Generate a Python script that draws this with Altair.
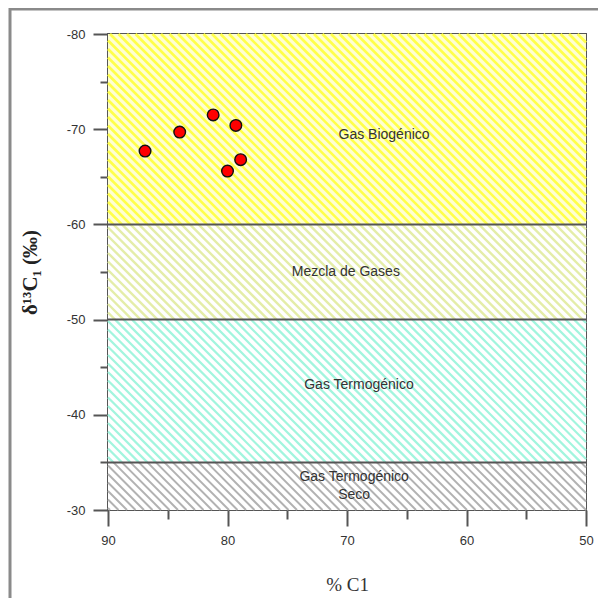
import altair as alt
import pandas as pd

# ---- data ----
pct_c1 = [86.9, 84.0, 81.2, 79.3, 78.9, 80.0]
d13c1 = [-67.7, -69.7, -71.5, -70.4, -66.8, -65.6]

band_names = ["Gas Biogénico", "Mezcla de Gases", "Gas Termogénico", "Gas Termogénico Seco"]
band_y0 = [-80, -60, -50, -35]
band_y1 = [-60, -50, -35, -30]
band_bg = ["#ffffd2", "#ffffff", "#ffffff", "#ffffff"]
band_line = ["#ffff4a", "#e4eda8", "#a2f5de", "#b2b2b2"]
band_lw = [2.6, 2.0, 2.0, 1.2]

label_text = ["Gas Biogénico", "Mezcla de Gases", "Gas Termogénico", "Gas Termogénico", "Seco"]
label_x = [66.9, 70.1, 69.0, 69.4, 69.4]
label_y = [-69.4, -55.0, -43.1, -33.5, -31.6]

x_ticks = [90, 85, 80, 75, 70, 65, 60, 55, 50]
y_ticks = [-80, -75, -70, -65, -60, -55, -50, -45, -40, -35, -30]

W, H = 478, 476
XMIN, XMAX = 50, 90
YMIN, YMAX = -80, -30

xs = alt.Scale(domain=[XMIN, XMAX], reverse=True, nice=False, zero=False)
ys = alt.Scale(domain=[YMIN, YMAX], reverse=True, nice=False, zero=False)

# ---- hatch segments (decorative fill pattern, 45 degrees in screen space) ----
def px_to_x(px):
    return XMAX - px * (XMAX - XMIN) / W

def py_to_y(py):
    return YMIN + py * (YMAX - YMIN) / H

rows = []
step = 8.5
for i in range(len(band_names)):
    pa = (band_y0[i] - YMIN) * H / (YMAX - YMIN)
    pb = (band_y1[i] - YMIN) * H / (YMAX - YMIN)
    c = -W
    while c < H:
        lo = max(0.0, pa - c)
        hi = min(W, pb - c)
        if hi > lo:
            rows.append(dict(band=band_names[i], x=px_to_x(lo), y=py_to_y(lo + c),
                             x2=px_to_x(hi), y2=py_to_y(hi + c)))
        c += step
hatch = pd.DataFrame(rows)

bands = pd.DataFrame(dict(name=band_names, y0=band_y0, y1=band_y1, bg=band_bg,
                          x0=[XMIN] * 4, x1=[XMAX] * 4))
pts = pd.DataFrame(dict(x=pct_c1, y=d13c1))
labels = pd.DataFrame(dict(t=label_text, x=label_x, y=label_y))
bounds = pd.DataFrame(dict(y=[-60, -50, -35]))

AX_COLOR = "#555555"
x_axis = alt.Axis(
    values=x_ticks, title="% C1", grid=False, domain=False,
    tickColor=AX_COLOR, tickWidth=2,
    tickSize={"condition": {"test": "datum.value % 10 != 0", "value": 9}, "value": 16},
    labelExpr="datum.value % 10 == 0 ? '' + datum.value : ''",
    labelFlush=False, labelOverlap=False,
    labelFont="Liberation Sans", labelFontSize=13, labelColor="#333333", labelPadding=8,
    titleFont="Liberation Serif", titleFontSize=19, titleFontWeight="normal",
    titleColor="#333333", titlePadding=28,
)
y_axis = alt.Axis(
    values=y_ticks, title="δ¹³C₁ (‰)", grid=False, domain=False,
    tickColor=AX_COLOR, tickWidth=2,
    tickSize={"condition": {"test": "datum.value % 10 != 0", "value": 8}, "value": 15},
    labelExpr="datum.value % 10 == 0 ? '' + datum.value : ''",
    labelFlush=False, labelOverlap=False,
    labelFont="Liberation Sans", labelFontSize=13, labelColor="#333333", labelPadding=8,
    titleFont="Liberation Serif", titleFontSize=21, titleFontWeight="bold",
    titleColor="#222222", titlePadding=26,
)

base_rect = alt.Chart(bands).mark_rect(stroke=None).encode(
    x=alt.X("x0:Q", scale=xs, axis=x_axis), x2="x1:Q",
    y=alt.Y("y0:Q", scale=ys, axis=y_axis), y2="y1:Q",
    fill=alt.Fill("bg:N", scale=None),
)

hatch_layer = alt.Chart(hatch).mark_rule(strokeCap="butt").encode(
    x=alt.X("x:Q", scale=xs), x2="x2:Q",
    y=alt.Y("y:Q", scale=ys), y2="y2:Q",
    color=alt.Color("band:N", scale=alt.Scale(domain=band_names, range=band_line), legend=None),
    strokeWidth=alt.StrokeWidth("band:N", scale=alt.Scale(domain=band_names, range=band_lw), legend=None),
)

bound_layer = alt.Chart(bounds).mark_rule(color=AX_COLOR, strokeWidth=2).encode(
    y=alt.Y("y:Q", scale=ys),
)

label_layer = alt.Chart(labels).mark_text(
    font="Liberation Sans", fontSize=14, color="#333333", align="center", baseline="middle"
).encode(
    x=alt.X("x:Q", scale=xs), y=alt.Y("y:Q", scale=ys), text="t:N",
)

point_layer = alt.Chart(pts).mark_point(
    filled=True, shape="circle", size=135, fill="#ff0000", stroke="#111111",
    strokeWidth=1.4, opacity=1,
).encode(
    x=alt.X("x:Q", scale=xs), y=alt.Y("y:Q", scale=ys),
)

frame = alt.Chart(pd.DataFrame({"a": [0]})).mark_rect(
    fill=None, stroke="#8a8a8a", strokeWidth=3, clip=False
).encode(
    x=alt.value(-98), x2=alt.value(W + 300),
    y=alt.value(-25), y2=alt.value(H + 300),
)

chart = alt.layer(
    base_rect, hatch_layer, bound_layer, label_layer, point_layer, frame
).properties(
    width=W, height=H,
    autosize=alt.AutoSizeParams(type="none"),
    padding={"left": 100, "top": 26, "right": 12, "bottom": 88},
).configure_view(
    stroke=AX_COLOR, strokeWidth=2,
)

chart.save("out.html", embed_options={"renderer": "svg", "actions": False})
